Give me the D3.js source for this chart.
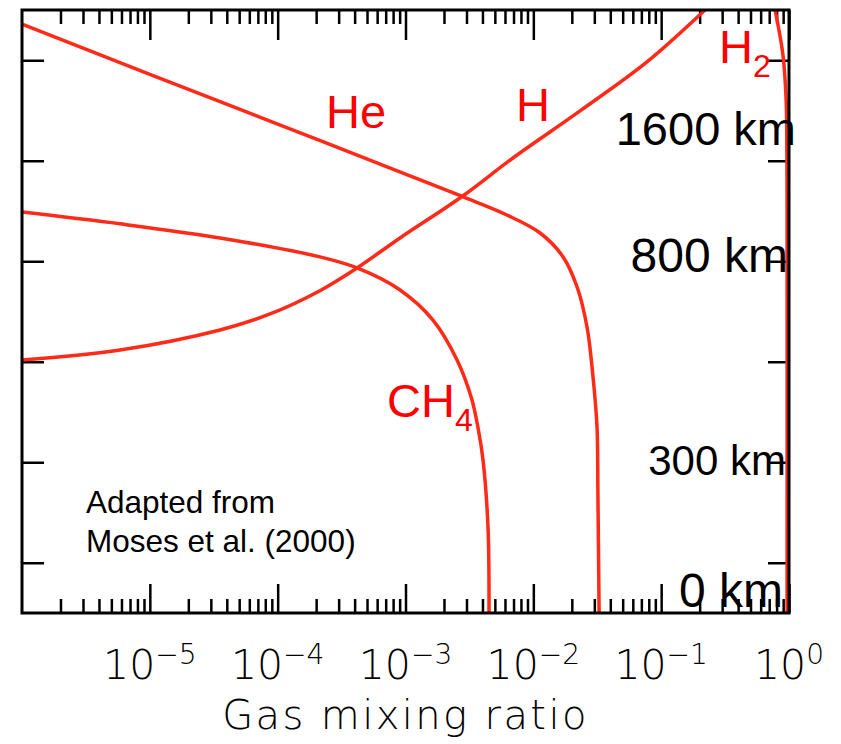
<!DOCTYPE html>
<html>
<head>
<meta charset="utf-8">
<script src="https://cdn.jsdelivr.net/npm/d3@7"></script>
<style>
  html, body { margin: 0; padding: 0; background: #fff; }
  svg { display: block; }
  .tick-label { font-family: "DejaVu Sans", sans-serif; font-weight: 300; font-stretch: condensed; }
  .note { font-family: "Liberation Sans", Arial, sans-serif; }
</style>
</head>
<body>
<svg id="chart" width="841" height="744"></svg>
<script>
// Vertical profiles: pressure (bar) against volume mixing ratio
const hePressure  = [1.9e-11, 1.9e-10, 1.86e-9, 1.84e-8, 5.14e-8, 1.2e-7, 2.74e-7, 8.2e-7, 3.25e-6, 2.03e-5, 2.0e-4, 2.0e-3, 0.041, 10];
const heMix       = [1e-6, 1e-5, 1e-4, 1e-3, 2.77e-3, 6.2e-3, 0.0113, 0.0171, 0.022, 0.0263, 0.0293, 0.0315, 0.032, 0.0327];

const ch4Pressure = [1.05e-7, 1.8e-7, 3.44e-7, 8.2e-7, 1.36e-6, 3.73e-6, 1.48e-5, 9.2e-5, 5.26e-4, 2.28e-3, 9.0e-3, 0.195, 10];
const ch4Mix      = [1e-6, 5.85e-6, 3.54e-5, 2.14e-4, 4.18e-4, 9.06e-4, 1.64e-3, 2.53e-3, 3.28e-3, 3.72e-3, 4.04e-3, 4.42e-3, 4.5e-3];

const hPressure   = [1e-11, 1.08e-10, 1.02e-9, 8.81e-9, 5.14e-8, 3.44e-7, 1.36e-6, 3.85e-6, 1.12e-5, 2.33e-5, 5.83e-5, 9.2e-5];
const hMix        = [0.22, 0.0774, 0.0232, 6.93e-3, 2.77e-3, 9.06e-4, 4.18e-4, 2.14e-4, 8.71e-5, 3.54e-5, 5.85e-6, 1e-6];

const h2Pressure  = [1e-11, 7.9e-11, 6.2e-10, 6.1e-9, 1e-7, 10];
const h2Mix       = [0.778, 0.897, 0.95, 0.962, 0.966, 0.966];

// Axis tick values
const xMajorTicks = [1e-5, 1e-4, 1e-3, 1e-2, 1e-1, 1];
const xTickExponents = ["\u22125", "\u22124", "\u22123", "\u22122", "\u22121", "0"];
const yMajorTicks = [1, 1e-2, 1e-4, 1e-6, 1e-8, 1e-10];

// Altitude annotations
const altitudeLabels = ["1600 km", "800 km", "300 km", "0 km"];

const svg = d3.select("#chart");
const plotLeft = 22, plotRight = 789, plotTop = 10, plotBottom = 613;

const x = d3.scaleLog().domain([1e-6, 1]).range([plotLeft, plotRight]);
const y = d3.scaleLog().domain([10, 1e-11]).range([plotBottom, plotTop]);

// minor ticks: 2..9 within each decade
const xMinorTicks = [];
for (let e = -6; e < 0; e++) {
  for (let m = 2; m <= 9; m++) xMinorTicks.push(m * Math.pow(10, e));
}

const axisStroke = 2.5;

function styleAxis(g) {
  g.select(".domain").remove();
  g.selectAll(".tick line").attr("stroke", "#000").attr("stroke-width", axisStroke);
  g.selectAll(".tick text").remove();
}

// bottom axis (ticks pointing inward)
svg.append("g").attr("transform", `translate(0,${plotBottom})`)
  .call(d3.axisBottom(x).tickValues(xMinorTicks).tickSize(-14).tickSizeOuter(0)).call(styleAxis);
svg.append("g").attr("transform", `translate(0,${plotBottom})`)
  .call(d3.axisBottom(x).tickValues(xMajorTicks).tickSize(-29).tickSizeOuter(0)).call(styleAxis);
// top axis
svg.append("g").attr("transform", `translate(0,${plotTop})`)
  .call(d3.axisTop(x).tickValues(xMinorTicks).tickSize(-14).tickSizeOuter(0)).call(styleAxis);
svg.append("g").attr("transform", `translate(0,${plotTop})`)
  .call(d3.axisTop(x).tickValues(xMajorTicks).tickSize(-30).tickSizeOuter(0)).call(styleAxis);
// left and right axes
svg.append("g").attr("transform", `translate(${plotLeft},0)`)
  .call(d3.axisLeft(y).tickValues(yMajorTicks).tickSize(-22).tickSizeOuter(0)).call(styleAxis);
svg.append("g").attr("transform", `translate(${plotRight},0)`)
  .call(d3.axisRight(y).tickValues(yMajorTicks).tickSize(-21).tickSizeOuter(0)).call(styleAxis);

// clip for the profiles
svg.append("clipPath").attr("id", "plot-clip")
  .append("rect").attr("x", plotLeft).attr("y", plotTop)
  .attr("width", plotRight - plotLeft).attr("height", plotBottom - plotTop);

const line = d3.line()
  .x(d => x(d[1]))
  .y(d => y(d[0]))
  .curve(d3.curveCatmullRom.alpha(0.5));

const profiles = [
  [hePressure, heMix],
  [ch4Pressure, ch4Mix],
  [hPressure, hMix],
  [h2Pressure, h2Mix]
];

const curves = svg.append("g").attr("clip-path", "url(#plot-clip)");
profiles.forEach(([p, m]) => {
  curves.append("path")
    .datum(d3.zip(p, m))
    .attr("d", line)
    .attr("fill", "none")
    .attr("stroke", "#ff2a17")
    .attr("stroke-width", 3.5);
});

// frame
svg.append("rect")
  .attr("x", plotLeft).attr("y", plotTop)
  .attr("width", plotRight - plotLeft).attr("height", plotBottom - plotTop)
  .attr("fill", "none").attr("stroke", "#000").attr("stroke-width", 3);

// x tick labels with superscript exponents
xMajorTicks.forEach((v, i) => {
  const t = svg.append("text")
    .attr("class", "tick-label")
    .attr("x", x(v)).attr("y", 679)
    .attr("text-anchor", "middle")
    .attr("font-size", 41);
  t.append("tspan").text("10");
  t.append("tspan").attr("dy", -15).attr("font-size", 28).text(xTickExponents[i]);
});

svg.append("text")
  .attr("class", "tick-label")
  .attr("x", (plotLeft + plotRight) / 2).attr("y", 729)
  .attr("text-anchor", "middle")
  .attr("font-size", 40)
  .attr("letter-spacing", 2.4)
  .text("Gas mixing ratio");

// species labels
const red = "#ff0000";
function species(name, sub, px, py) {
  const t = svg.append("text").attr("class", "note")
    .attr("x", px).attr("y", py).attr("fill", red).attr("font-size", 47);
  t.append("tspan").text(name);
  if (sub) t.append("tspan").attr("dy", 14).attr("font-size", 32).text(sub);
}
species("He", null, 326, 128);
species("H", null, 516, 121);
species("H", "2", 719, 63);
species("CH", "4", 387, 417);

// altitude annotations
const altPos = [[796, 145, 47], [788, 272, 48], [786, 475, 42], [783, 607, 48]];
altitudeLabels.forEach((s, i) => {
  svg.append("text").attr("class", "note")
    .attr("x", altPos[i][0]).attr("y", altPos[i][1])
    .attr("text-anchor", "end")
    .attr("font-size", altPos[i][2])
    .attr("fill", "#000")
    .text(s);
});

// source note
const src = svg.append("text").attr("class", "note").attr("font-size", 31.5).attr("fill", "#000");
src.append("tspan").attr("x", 86).attr("y", 513).text("Adapted from");
src.append("tspan").attr("x", 86).attr("y", 552).text("Moses et al. (2000)");
</script>
</body>
</html>
